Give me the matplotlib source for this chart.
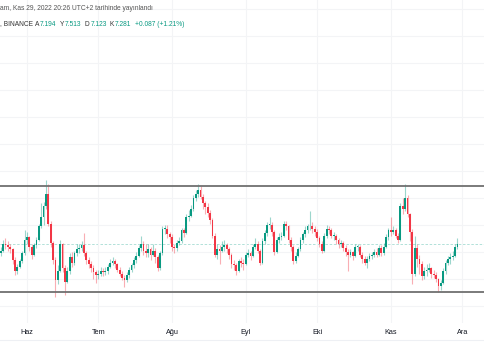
import matplotlib
matplotlib.use("Agg")
import matplotlib.pyplot as plt
import matplotlib.dates as mdates
import numpy as np
import pandas as pd

# ---------------- data ----------------
start_date = "2022-05-21"
end_date = "2022-11-29"
first_open = 6.95
closes = [
    7.05, 7.30, 7.25, 7.20, 7.10, 6.70, 6.30, 6.45, 6.65, 6.95, 7.45,            # May 21-31
    7.55, 7.20, 6.90, 7.25, 7.45, 7.95, 8.30, 8.70, 9.15, 8.05, 7.35, 6.70, 5.95,  # Jun 1-13
    6.30, 7.30, 6.40, 5.90, 6.30, 6.80, 6.60, 6.95, 7.10, 7.15, 7.25, 6.95, 6.70,  # Jun 14-26
    6.55, 6.40, 6.25, 6.15,                                                        # Jun 27-30
    6.20, 6.30, 6.25, 6.30, 6.45, 6.60, 6.65, 6.55, 6.35, 6.20, 6.05, 5.95, 6.15,  # Jul 1-13
    6.35, 6.50, 6.70, 6.85, 7.15, 7.30, 7.05, 6.95, 7.10, 6.90, 7.05, 6.80, 6.40,  # Jul 14-26
    6.95, 7.85, 7.85, 7.65, 7.55,                                                  # Jul 27-31
    7.20, 7.15, 7.35, 7.40, 7.80, 7.70, 8.30, 8.35, 8.60, 9.00, 9.15, 9.30, 9.05,  # Aug 1-13
    8.80, 8.65, 8.45, 8.20, 7.60, 6.90, 7.10, 7.05, 7.20, 7.25, 7.10, 6.90, 6.55,  # Aug 14-26
    6.50, 6.30, 6.65, 6.60, 6.55,                                                  # Aug 27-31
    6.90, 6.95, 6.85, 7.20, 7.30, 7.05, 6.60, 7.40, 7.70, 8.00, 8.00, 7.75, 7.00,  # Sep 1-13
    7.45, 7.55, 7.60, 8.05, 7.95, 7.45, 7.20, 6.65, 6.85, 7.10, 7.45, 7.65, 7.80,  # Sep 14-26
    7.95, 7.95, 7.85, 7.75,                                                        # Sep 27-30
    7.50, 7.30, 7.05, 7.60, 7.85, 7.80, 7.60, 7.60, 7.45, 7.30, 7.35, 7.15, 7.00,  # Oct 1-13
    6.90, 7.00, 6.85, 7.20, 7.20, 6.90, 6.75, 6.60, 6.75, 6.85, 6.90, 7.00, 6.90,  # Oct 14-26
    7.15, 6.95, 7.20, 7.55, 7.80,                                                  # Oct 27-31
    7.75, 7.80, 7.60, 7.45, 8.70, 8.60, 9.00, 8.40, 7.75, 6.20, 7.15, 6.75, 6.55,  # Nov 1-13
    6.10, 6.30, 6.35, 6.40, 6.20, 6.15, 6.00, 5.75, 5.85, 6.30, 6.60, 6.75, 6.80,  # Nov 14-26
    6.85, 7.194, 7.281,                                                            # Nov 27-29
]
highs = [
    7.20, 7.45, 7.50, 7.40, 7.30, 7.15, 6.80, 6.55, 6.75, 7.05, 7.80,
    7.75, 7.60, 7.30, 7.35, 7.55, 8.05, 8.80, 8.85, 9.65, 9.50, 8.15, 7.40, 6.80,
    6.50, 7.45, 7.35, 6.50, 6.45, 6.95, 7.00, 7.05, 7.30, 7.30, 7.40, 7.70, 7.05,
    6.80, 6.65, 6.50, 6.35,
    6.35, 6.45, 6.40, 6.45, 6.55, 6.75, 6.80, 6.75, 6.60, 6.45, 6.30, 6.15, 6.25,
    6.45, 6.60, 6.80, 7.00, 7.25, 7.60, 7.40, 7.30, 7.30, 7.20, 7.30, 7.15, 6.90,
    7.05, 7.95, 8.00, 8.00, 7.75,
    7.65, 7.30, 7.45, 7.55, 7.90, 7.90, 8.40, 8.55, 8.75, 9.10, 9.30, 9.50, 9.45,
    9.15, 8.90, 8.80, 8.55, 8.25, 7.70, 7.30, 7.25, 7.40, 7.45, 7.35, 7.20, 6.95,
    6.70, 6.60, 6.75, 6.80, 6.75,
    7.00, 7.10, 7.05, 7.30, 7.50, 7.40, 7.10, 7.50, 7.80, 8.10, 8.30, 8.10, 7.80,
    7.55, 7.70, 7.75, 8.15, 8.15, 8.00, 7.55, 7.25, 7.00, 7.20, 7.55, 7.75, 7.95,
    8.05, 8.50, 8.10, 7.95,
    7.85, 7.60, 7.40, 7.70, 8.00, 7.95, 7.90, 7.75, 7.65, 7.50, 7.45, 7.40, 7.25,
    7.10, 7.10, 7.05, 7.30, 7.30, 7.25, 7.00, 6.85, 6.85, 6.95, 7.00, 7.10, 7.15,
    7.25, 7.25, 7.35, 7.65, 7.90,
    8.30, 7.95, 7.90, 7.70, 8.80, 9.00, 9.50, 9.10, 8.45, 7.85, 7.60, 7.30, 6.90,
    6.65, 6.45, 6.55, 6.60, 6.45, 6.35, 6.25, 6.05, 5.95, 6.40, 6.70, 6.85, 6.95,
    7.05, 7.30, 7.513,
]
lows = [
    6.85, 7.00, 7.10, 7.05, 6.95, 6.55, 6.15, 6.20, 6.40, 6.60, 6.90,
    7.30, 7.05, 6.75, 6.85, 7.15, 7.40, 7.90, 8.00, 8.60, 7.95, 7.20, 6.55, 5.35,
    5.80, 6.25, 6.25, 5.40, 5.85, 6.20, 6.45, 6.50, 6.85, 6.95, 7.05, 6.85, 6.55,
    6.40, 6.25, 6.00, 5.85,
    6.00, 6.10, 6.10, 6.15, 6.20, 6.40, 6.50, 6.40, 6.25, 6.10, 5.95, 5.70, 5.90,
    6.05, 6.25, 6.40, 6.60, 6.80, 7.05, 6.90, 6.80, 6.80, 6.70, 6.85, 6.60, 6.30,
    6.35, 6.90, 7.65, 7.50, 7.35,
    7.05, 6.95, 7.05, 7.25, 7.35, 7.55, 7.65, 8.15, 8.30, 8.50, 8.90, 9.05, 8.95,
    8.60, 8.40, 8.30, 8.05, 7.50, 6.80, 6.75, 6.55, 7.00, 7.05, 6.95, 6.75, 6.40,
    6.35, 6.15, 6.25, 6.45, 6.35,
    6.50, 6.80, 6.70, 6.80, 7.10, 6.95, 6.50, 6.55, 7.30, 7.60, 7.85, 7.60, 6.90,
    6.95, 7.35, 7.45, 7.55, 7.80, 7.35, 7.05, 6.55, 6.60, 6.80, 7.05, 7.35, 7.55,
    7.70, 7.80, 7.70, 7.60,
    7.40, 7.20, 6.95, 7.00, 7.50, 7.65, 7.50, 7.45, 7.30, 7.15, 7.20, 7.05, 6.85,
    6.30, 6.80, 6.70, 6.80, 7.05, 6.80, 6.60, 6.50, 6.40, 6.65, 6.75, 6.80, 6.80,
    6.85, 6.85, 6.90, 7.15, 7.45,
    7.60, 7.65, 7.50, 7.35, 7.40, 8.40, 8.50, 8.30, 7.40, 5.80, 6.10, 6.45, 6.20,
    5.95, 6.00, 6.10, 6.25, 6.05, 6.05, 5.90, 5.50, 5.60, 5.80, 6.20, 6.50, 6.55,
    6.70, 6.80, 7.123,
]
range_top = 9.44
range_bottom = 5.52
month_ticks = ["2022-06-01", "2022-07-01", "2022-08-01", "2022-09-01",
               "2022-10-01", "2022-11-01", "2022-12-01"]
month_labels = ["Haz", "Tem", "Ağu", "Eyl", "Eki", "Kas", "Ara"]
header_line1 = "am, Kas 29, 2022 20:26 UTC+2 tarihinde yayınlandı"
ohlc_labels = ["A", "Y", "D", "K"]
ohlc_values = ["7.194", "7.513", "7.123", "7.281"]
change_text = "+0.087 (+1.21%)"

# ---------------- figure ----------------
plt.rcParams['font.family'] = ['Liberation Sans', 'DejaVu Sans']
UP = "#089981"
DOWN = "#F23645"
GRID = "#f3f4f6"
FS = 4.8

dates = pd.date_range(start_date, end_date, freq="D")
x = mdates.date2num(dates.to_pydatetime())
c = np.array(closes)
o = np.array([first_open] + closes[:-1])
h = np.array(highs)
l = np.array(lows)

fig = plt.figure(figsize=(4.85, 3.6), dpi=100)
ax = fig.add_axes([0, 37 / 360, 1, 323 / 360])

jun1 = mdates.date2num(pd.Timestamp("2022-06-01"))
dec1 = mdates.date2num(pd.Timestamp("2022-12-01"))
ax.set_xlim(jun1 - 11.3, dec1 + 9.57)
ax.set_ylim(4.37, 16.33)

# grid
ax.set_yticks(np.arange(5, 17, 1))
tick_pos = mdates.date2num([pd.Timestamp(t) for t in month_ticks])
ax.set_xticks(tick_pos)
ax.set_xticklabels(month_labels, fontsize=5.2, color="#131722")
ax.tick_params(axis="x", length=0, pad=4.5)
ax.tick_params(axis="y", length=0, labelleft=False)
ax.grid(True, color=GRID, linewidth=0.8, zorder=0)
for s in ax.spines.values():
    s.set_visible(False)

# candles
up = c >= o
colors = np.where(up, UP, DOWN)
ax.vlines(x, l, h, colors=colors, linewidth=0.8, alpha=0.4, zorder=2)
body_bottom = np.minimum(o, c)
body_height = np.maximum(np.abs(c - o), 0.02)
ax.bar(x, body_height, bottom=body_bottom, width=0.75, color=colors,
       linewidth=0, zorder=3)

# range lines
ax.axhline(range_top, color="#707070", linewidth=1.3, zorder=4)
ax.axhline(range_bottom, color="#707070", linewidth=1.3, zorder=4)
# last price line
ax.axhline(closes[-1], color="#a6dcd3", linewidth=0.6, linestyle=(0, (3, 2)), zorder=1)

# bottom separator of time axis
fig.add_artist(plt.Line2D([0, 1], [20 / 360, 20 / 360], color="#eef0f4", linewidth=0.8))

# header
fig.text(0.0, 1 - 8 / 360, header_line1, fontsize=FS, color="#555555", va="center", ha="left")
fig.text(0.0, 1 - 24 / 360, ", BINANCE", fontsize=FS, color="#333333", va="center", ha="left")
fig.canvas.draw()
renderer = fig.canvas.get_renderer()
lab_x = [35, 60, 85, 110]
for lx, lab, val in zip(lab_x, ohlc_labels, ohlc_values):
    t = fig.text(lx / 485, 1 - 24 / 360, lab, fontsize=FS, color="#333333", va="center", ha="left")
    bb = t.get_window_extent(renderer)
    fig.text((bb.x1 + 0.6) / 485, 1 - 24 / 360, val, fontsize=FS, color=UP, va="center", ha="left")
fig.text(135 / 485, 1 - 24 / 360, change_text, fontsize=FS, color=UP, va="center", ha="left")

fig.savefig("out.png", dpi=100, facecolor="white")
